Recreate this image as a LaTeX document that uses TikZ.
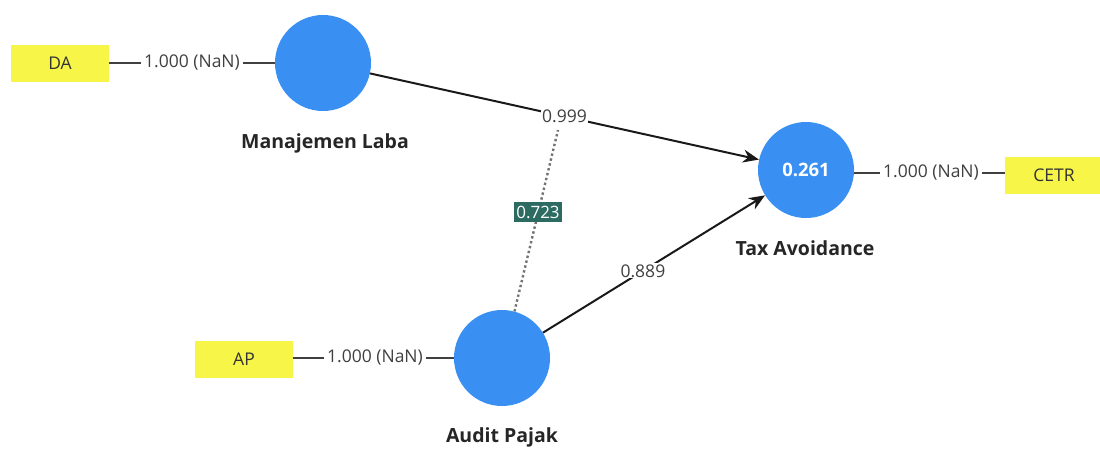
\documentclass[tikz,border=0pt]{standalone}
\usepackage{fontspec}
\setmainfont{Open Sans}
\usetikzlibrary{arrows.meta}
\definecolor{lvblue}{HTML}{3A90F2}
\definecolor{indyellow}{HTML}{F7F548}
\definecolor{tealbox}{HTML}{2C6B62}
\tikzset{
  latent/.style={circle, fill=lvblue, minimum size=96pt, inner sep=0pt, text=white, font=\fontsize{18.5}{22}\selectfont\bfseries},
  indicator/.style={rectangle, fill=indyellow, minimum width=98pt, minimum height=37pt, inner sep=0pt, font=\fontsize{17.5}{20}\selectfont, text=black!80},
  lvname/.style={font=\fontsize{19.5}{23}\selectfont\bfseries, text=black!85},
  loadlbl/.style={font=\fontsize{17.5}{20}\selectfont, text=black!75, fill=white, inner sep=3pt},
  pathlbl/.style={font=\fontsize{17.5}{20}\selectfont, text=black!75, fill=white, inner sep=1pt},
  pathline/.style={line width=2pt, black!90, -{Stealth[length=16pt,width=13pt]}},
  loadline/.style={line width=1.1pt, black!75},
  modline/.style={line width=2.4pt, black!55, dash pattern=on 2.4pt off 2.6pt},
  modlbl/.style={fill=tealbox, text=white!90, font=\fontsize{17}{20}\selectfont, inner xsep=2.5pt, inner ysep=3.5pt}
}
\begin{document}
\begin{tikzpicture}[x=1pt,y=-1pt]
\useasboundingbox (0,0) rectangle (1100,448);
% latent variables
\node[latent] (ML) at (323,63) {};
\node[latent] (TA) at (806,170) {0.261};
\node[latent] (AP) at (502,358) {};
% names
\node[lvname] (MLn) at (325,143) {Manajemen Laba};
\node[lvname] (TAn) at (805,248) {Tax Avoidance};
\node[lvname] (APn) at (502,437) {Audit Pajak};
% indicators
\node[indicator] (DA) at (60,63) {DA};
\node[indicator] (CETR) at (1054,175) {CETR};
\node[indicator] (APi) at (244,359) {AP};
% loadings
\node[loadlbl] (lDA) at (192,63) {1.000 (NaN)};
\node[loadlbl] (lCE) at (931,173) {1.000 (NaN)};
\node[loadlbl] (lAP) at (375,358) {1.000 (NaN)};
\draw[loadline] (DA.east) -- (lDA.west);
\draw[loadline] (lDA.east) -- (ML.west);
\draw[loadline] (TA.east |- lCE) -- (lCE.west);
\draw[loadline] (lCE.east) -- (CETR.west |- lCE);
\draw[loadline] (APi.east |- lAP) -- (lAP.west);
\draw[loadline] (lAP.east) -- (AP.west);
% structural paths
\draw[pathline] (ML) -- (TA) node[pathlbl, pos=0.5] (p1) {0.999};
\draw[pathline] (AP) -- (TA) node[pathlbl, pos=0.45] (p2) {0.889};
% moderating effect
\coordinate (modend) at (558,130);
\draw[modline] (AP.75) -- (modend);
\node[modlbl] (mod) at (538,212) {0.723};
\end{tikzpicture}
\end{document}
